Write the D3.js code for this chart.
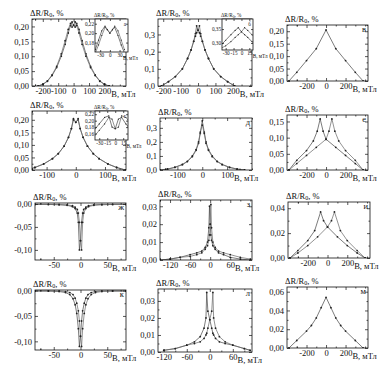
<!DOCTYPE html>
<html><head><meta charset="utf-8">
<script src="https://cdn.jsdelivr.net/npm/d3@7"></script>
<style>body{margin:0;background:#fff}svg{display:block}text{font-family:"Liberation Serif","DejaVu Serif",serif;fill:#111}</style>
</head><body>
<svg id="c" width="388" height="368"></svg>
<script>
// ---------- data ----------
const aB  = [-230,-200,-170,-140,-110,-80,-55,-35,-20,-10,0,10,20,35,55,80,110,140,170,200,230];
const aR1 = [0.000,0.005,0.016,0.035,0.062,0.100,0.140,0.178,0.203,0.215,0.204,0.198,0.210,0.190,0.152,0.108,0.066,0.037,0.017,0.006,0.000];
const aR2 = [0.000,0.006,0.017,0.037,0.066,0.108,0.152,0.190,0.210,0.198,0.204,0.215,0.203,0.178,0.140,0.100,0.062,0.035,0.016,0.005,0.000];
const aiB  = [-45,-35,-25,-15,-8,0,8,15,25,35,45];
const aiR1 = [0.165,0.185,0.205,0.215,0.207,0.200,0.208,0.212,0.195,0.175,0.158];
const aiR2 = [0.158,0.175,0.195,0.212,0.208,0.200,0.207,0.215,0.205,0.185,0.165];

const bB  = [-210,-170,-130,-90,-60,-40,-25,-15,-8,0,8,15,25,40,60,90,130,170,210];
const bR1 = [0,0.025,0.055,0.100,0.160,0.210,0.260,0.305,0.350,0.325,0.310,0.290,0.260,0.210,0.160,0.100,0.055,0.025,0];
const bR2 = [0,0.025,0.055,0.100,0.160,0.210,0.260,0.290,0.310,0.325,0.350,0.305,0.260,0.210,0.160,0.100,0.055,0.025,0];
const biB  = [-40,-30,-20,-12,-6,0,6,12,20,30,40];
const biR1 = [0.290,0.310,0.330,0.345,0.355,0.340,0.330,0.320,0.305,0.290,0.280];
const biR2 = [0.280,0.290,0.305,0.320,0.330,0.340,0.355,0.345,0.330,0.310,0.290];

const vB = [-380,-300,-200,-100,0,100,200,300,380];
const vR = [0,0.035,0.082,0.130,0.205,0.130,0.082,0.035,0];

const gB  = [-170,-140,-110,-80,-60,-40,-25,-15,-8,0,8,15,25,40,60,80,110,140,170];
const gR1 = [0,0.010,0.024,0.045,0.065,0.095,0.130,0.165,0.205,0.190,0.200,0.165,0.130,0.095,0.065,0.045,0.024,0.010,0];
const gR2 = [0,0.010,0.024,0.045,0.065,0.095,0.130,0.165,0.200,0.190,0.205,0.165,0.130,0.095,0.065,0.045,0.024,0.010,0];
const giB  = [-40,-30,-20,-12,-6,0,6,12,20,30,40];
const giR1 = [0.170,0.190,0.210,0.215,0.180,0.175,0.205,0.210,0.190,0.170,0.150];
const giR2 = [0.150,0.170,0.190,0.210,0.205,0.175,0.180,0.215,0.210,0.190,0.170];

const dB  = [-170,-140,-110,-80,-60,-40,-25,-15,-8,0,8,15,25,40,60,80,110,140,170];
const dR1 = [0,0.006,0.018,0.038,0.060,0.095,0.140,0.190,0.260,0.350,0.270,0.200,0.145,0.100,0.062,0.040,0.019,0.007,0];
const dR2 = [0,0.007,0.020,0.040,0.062,0.100,0.145,0.200,0.270,0.320,0.260,0.190,0.140,0.095,0.060,0.038,0.018,0.006,0];

const eB1 = [-380,-300,-200,-130,-90,-60,-30,0,100,200,300,380];
const eR1 = [0,0.030,0.060,0.090,0.120,0.158,0.120,0.095,0.070,0.045,0.020,0];
const eB2 = [-380,-300,-200,-100,0,30,60,90,130,200,300,380];
const eR2 = [0,0.020,0.045,0.070,0.095,0.120,0.158,0.120,0.090,0.060,0.030,0];

const zhB  = [-85,-60,-40,-25,-15,-10,-6,-4,-2,0,2,4,6,10,15,25,40,60,85];
const zhR1 = [-0.001,-0.001,-0.002,-0.003,-0.006,-0.010,-0.020,-0.040,-0.100,-0.080,-0.040,-0.020,-0.012,-0.007,-0.004,-0.002,-0.001,-0.001,-0.001];
const zhR2 = [-0.001,-0.001,-0.001,-0.002,-0.004,-0.007,-0.012,-0.020,-0.040,-0.080,-0.100,-0.040,-0.020,-0.010,-0.006,-0.003,-0.002,-0.001,-0.001];

const zB  = [-150,-120,-90,-60,-40,-25,-15,-8,-4,-2,0,2,4,8,15,25,40,60,90,120];
const zR1 = [0,0.0005,0.0015,0.003,0.004,0.005,0.007,0.010,0.018,0.030,0.020,0.014,0.011,0.008,0.006,0.004,0.003,0.0015,0.0005,0];
const zR2 = [0,0.0005,0.0015,0.002,0.003,0.004,0.006,0.008,0.011,0.014,0.020,0.031,0.018,0.010,0.007,0.005,0.004,0.003,0.0015,0.0005];

const iB1 = [-380,-300,-200,-130,-70,-40,0,100,200,300,380];
const iR1 = [0,0.006,0.014,0.022,0.037,0.030,0.025,0.017,0.010,0.004,0];
const iB2 = [-380,-300,-200,-100,0,40,70,130,200,300,380];
const iR2 = [0,0.004,0.010,0.017,0.025,0.030,0.037,0.022,0.014,0.006,0];

const kB  = [-85,-60,-40,-28,-20,-14,-10,-7,-4,-2,0,2,4,7,10,14,20,28,40,60,85];
const kR1 = [-0.001,-0.001,-0.002,-0.004,-0.008,-0.016,-0.028,-0.045,-0.075,-0.110,-0.090,-0.060,-0.040,-0.025,-0.015,-0.008,-0.004,-0.002,-0.001,-0.001,-0.001];
const kR2 = [-0.001,-0.001,-0.001,-0.002,-0.004,-0.008,-0.015,-0.025,-0.040,-0.060,-0.090,-0.110,-0.075,-0.045,-0.028,-0.016,-0.008,-0.004,-0.002,-0.001,-0.001];

const lB  = [-120,-90,-60,-40,-25,-15,-10,-8,-5,0,5,8,10,15,25,40,60,90,105];
const lR1 = [0.001,0.002,0.004,0.006,0.009,0.014,0.020,0.035,0.024,0.019,0.014,0.011,0.010,0.008,0.006,0.005,0.004,0.002,0.001];
const lR2 = [0.001,0.002,0.004,0.005,0.006,0.008,0.010,0.011,0.014,0.019,0.024,0.035,0.020,0.014,0.009,0.006,0.004,0.002,0.001];

const mB = [-380,-300,-200,-150,-100,-50,0,50,100,150,200,300,380];
const mR = [0,0.008,0.018,0.024,0.032,0.043,0.054,0.043,0.032,0.024,0.018,0.008,0];

// tick values
const xtA = [-200,-100,0,100,200], xtD = [-100,0,100], xtC = [-200,0,200];
const xtZh = [-50,0,50], xtZ = [-120,-60,0,60];

// ---------- layout ----------
const C1 = [32,126], C2 = [158,252], C3 = [287,368];
const panels = [
 {l:'а', box:[C1[0],19,C1[1],86], x:[-270,340], xt:xtA, y:[0,0.225], yt:[0,0.05,0.10,0.15,0.20], yd:2, s:[[aB,aR1],[aB,aR2]],
  inset:{box:[95,19,128,52], x:[-46,56], xt:[-30,0,30], y:[0.16,0.23], yt:[0.18,0.20,0.22], yd:2, s:[[aiB,aiR1],[aiB,aiR2]], l:'а'}},
 {l:'б', box:[C2[0],19,C2[1],86], x:[-230,310], xt:xtA, y:[0,0.39], yt:[0,0.1,0.2,0.3], yd:1, s:[[bB,bR1],[bB,bR2]],
  inset:{box:[222,19,253,50], x:[-37,22], xt:[-30,-15,0,15], y:[0.275,0.386], yt:[0.30,0.35], yd:2, s:[[biB,biR1],[biB,biR2]], l:'б'}},
 {l:'в', box:[C3[0],25,C3[1],81], x:[-400,430], xt:xtC, y:[0,0.225], yt:[0,0.05,0.10,0.15,0.20], yd:2, s:[[vB,vR]]},
 {l:'г', box:[C1[0],111,C1[1],170], x:[-150,172], xt:xtD, y:[0,0.235], yt:[0,0.05,0.10,0.15,0.20], yd:2, s:[[gB,gR1],[gB,gR2]],
  inset:{box:[95,111,128,140], x:[-38,24], xt:[-30,-15,0,15], y:[0.14,0.23], yt:[0.16,0.18,0.20,0.22], yd:2, s:[[giB,giR1],[giB,giR2]], l:'г'}},
 {l:'д', box:[C2[0]+2,118,C2[1],170], x:[-170,200], xt:xtD, y:[0,0.37], yt:[0,0.1,0.2,0.3], yd:1, s:[[dB,dR1],[dB,dR2]]},
 {l:'е', box:[C3[0],115,C3[1],170], x:[-400,430], xt:xtC, y:[0,0.17], yt:[0,0.05,0.10,0.15], yd:2, s:[[eB1,eR1],[eB2,eR2]]},
 {l:'ж', box:[35,203,C1[1],260], x:[-85,85], xt:xtZh, y:[-0.122,0.002], yt:[-0.10,-0.05,0], yd:2, s:[[zhB,zhR1],[zhB,zhR2]]},
 {l:'з', box:[C2[0]+2,200,C2[1],260], x:[-150,125], xt:xtZ, y:[0,0.0335], yt:[0,0.01,0.02,0.03], yd:2, s:[[zB,zR1],[zB,zR2]]},
 {l:'и', box:[288,202,370,258], x:[-400,430], xt:xtC, y:[0,0.045], yt:[0,0.02,0.04], yd:2, s:[[iB1,iR1],[iB2,iR2]]},
 {l:'к', box:[35,290,C1[1],350], x:[-85,85], xt:xtZh, y:[-0.117,0.001], yt:[-0.10,-0.05,0], yd:2, s:[[kB,kR1],[kB,kR2]]},
 {l:'л', box:[C2[0],289,C2[1],352], x:[-135,110], xt:xtZ, y:[0,0.037], yt:[0,0.01,0.02,0.03], yd:2, s:[[lB,lR1],[lB,lR2]]},
 {l:'м', box:[C3[0],287,C3[1],348], x:[-400,430], xt:xtC, y:[0,0.065], yt:[0,0.02,0.04,0.06], yd:2, s:[[mB,mR]]}
];

const svg = d3.select('#c');
const fmt = (v,n) => d3.format('.'+n+'f')(v).replace('.',',').replace('\u2212','-');
const FS = 8.5;

function minorVals(t, dom){
  const step = t[1]-t[0], out=[];
  for(let v=t[0]-step/2; v<=dom[1]; v+=step/2){ if(v>=dom[0] && !t.some(q=>Math.abs(q-v)<1e-9)) out.push(v); }
  for(let v=t[0]-step/2; v>=dom[0]; v-=step) out.push(v);
  return out;
}

let clipId = 0;
function drawPlot(p, isInset, hasInset){
  const [x0,y0,x1,y1] = p.box;
  const xs = d3.scaleLinear().domain(p.x).range([x0,x1]);
  const ys = d3.scaleLinear().domain(p.y).range([y1,y0]);
  const g = svg.append('g');
  const id = 'cl'+(clipId++);
  g.append('clipPath').attr('id',id).append('rect').attr('x',x0).attr('y',y0).attr('width',x1-x0).attr('height',y1-y0);
  if(isInset) g.append('rect').attr('x',x0).attr('y',y0).attr('width',x1-x0).attr('height',y1-y0).attr('fill','#fff');
  const dg = g.append('g').attr('clip-path','url(#'+id+')');
  const line = d3.line().x(d=>xs(d[0])).y(d=>ys(d[1]));
  p.s.forEach((s,k)=>{
    const pts = s[0].map((b,i)=>[b,s[1][i]]);
    dg.append('path').datum(pts).attr('d',line).attr('fill','none').attr('stroke', k? '#666':'#444').attr('stroke-width',0.7);
    dg.selectAll(null).data(pts).join('circle')
      .attr('cx',d=>xs(d[0])).attr('cy',d=>ys(d[1])).attr('r', isInset?0.6:0.9).attr('fill','#222');
  });
  const fs = isInset ? 5.2 : FS;
  const tl = isInset ? 2 : 3;
  const ax = (gen, tr, vals, len, lab) => {
    const a = g.append('g').attr('transform',tr).call(gen.tickValues(vals).tickSizeInner(len).tickSizeOuter(0).tickPadding(isInset?1:3).tickFormat(lab||''));
    a.select('.domain').remove();
    a.selectAll('line').attr('stroke','#111').attr('stroke-width',0.7);
    a.selectAll('text').attr('font-size',fs).attr('fill','#111').style('font-family','"Liberation Serif",serif');
    return a;
  };
  const bx = ax(d3.axisBottom(xs), `translate(0,${y1})`, p.xt, -tl, d=>fmt(d,0));
  bx.selectAll('text').attr('dy', '0.75em').attr('y', isInset?1.5:2);
  ax(d3.axisTop(xs), `translate(0,${y0})`, p.xt, -tl);
  const ly = ax(d3.axisLeft(ys), `translate(${x0},0)`, p.yt, -tl, d=>fmt(d,p.yd));
  ly.selectAll('text').attr('x', isInset?-1:-3);
  ax(d3.axisRight(ys), `translate(${x1},0)`, p.yt, -tl);
  if(!isInset){
    const mx = minorVals(p.xt,p.x), my = minorVals(p.yt,p.y);
    ax(d3.axisBottom(xs), `translate(0,${y1})`, mx, -1.5);
    ax(d3.axisTop(xs), `translate(0,${y0})`, mx, -1.5);
    ax(d3.axisLeft(ys), `translate(${x0},0)`, my, -1.5);
    ax(d3.axisRight(ys), `translate(${x1},0)`, my, -1.5);
  }
  g.append('rect').attr('x',x0).attr('y',y0).attr('width',x1-x0).attr('height',y1-y0).attr('fill','none').attr('stroke','#111').attr('stroke-width',0.8);
  const lastTxt = bx.selectAll('text').nodes().pop();
  const last = p.xt[p.xt.length-1];
  const w = lastTxt.getComputedTextLength();
  if(isInset){
    g.append('text').attr('x', xs(last)+w/2+0.8).attr('y', y1+7.5).attr('font-size',fs).text('B, мТл');
  } else {
    g.append('text').attr('x', xs(last)+w/2+0.5).attr('y', y1+10.5).attr('font-size',fs).text('B, мТл');
  }
  const yt = g.append('text').attr('x', isInset? x0-1 : x0-2).attr('y', isInset? y0-2 : y0-3).attr('font-size',fs);
  yt.append('tspan').text('ΔR/R');
  yt.append('tspan').attr('font-size',fs*0.7).attr('dy',1.2).text('0');
  yt.append('tspan').attr('dy',-1.2).text(', %');
  if(!hasInset) g.append('text').attr('x',x1-2).attr('y',y0+7).attr('text-anchor','end').attr('font-size',fs).text(p.l);
}

panels.forEach(p=>{
  drawPlot(p,false,!!p.inset);
  if(p.inset) drawPlot(p.inset,true,false);
});
</script>
</body></html>
